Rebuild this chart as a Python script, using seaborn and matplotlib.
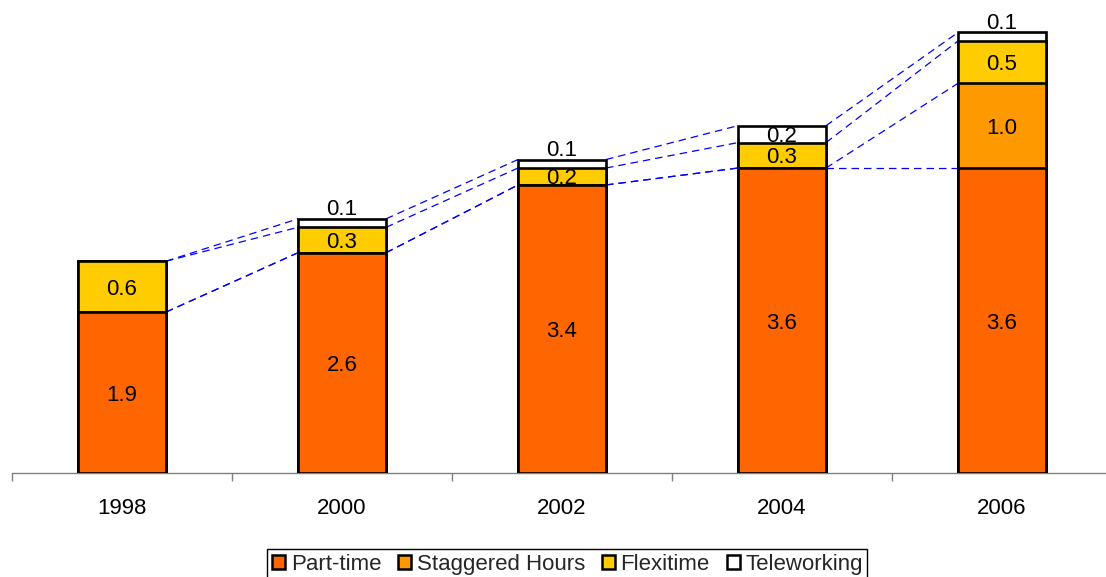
import matplotlib
matplotlib.use("Agg")
import matplotlib.pyplot as plt
from matplotlib.patches import Patch
import numpy as np
import pandas as pd
import seaborn as sns

# Flexible working arrangements by year (stacked components)
years = ["1998", "2000", "2002", "2004", "2006"]
part_time = [1.9, 2.6, 3.4, 3.6, 3.6]
staggered = [0.0, 0.0, 0.0, 0.0, 1.0]
flexitime = [0.6, 0.3, 0.2, 0.3, 0.5]
teleworking = [0.0, 0.1, 0.1, 0.2, 0.1]

series_names = ["Part-time", "Staggered Hours", "Flexitime", "Teleworking"]
series_colors = ["#FF6600", "#FF9900", "#FFCC00", "#FFFFFF"]

sns.set_theme(style="white")
plt.rcParams["font.family"] = ["Liberation Sans", "DejaVu Sans"]

FS = 16

layers = [part_time, staggered, flexitime, teleworking]
cum = np.cumsum(np.array(layers, dtype=float), axis=0)  # cumulative tops per layer
bottoms = np.vstack([np.zeros(len(years)), cum[:-1]])

fig = plt.figure(figsize=(11.06, 5.77), dpi=100)
ax = fig.add_axes([12 / 1106, 104 / 577, 1100 / 1106, 449 / 577])

bar_w = 0.4
# Draw tallest cumulative layer first so each lower layer's outline sits on top
for i in range(len(layers) - 1, -1, -1):
    df = pd.DataFrame({"year": years, "top": cum[i]})
    sns.barplot(data=df, x="year", y="top", order=years, color=series_colors[i],
                saturation=1, width=bar_w, edgecolor="black", linewidth=1.9,
                errorbar=None, ax=ax, zorder=3)

# Series connector lines between adjacent bars
xs = np.arange(len(years))
for i in range(len(layers)):
    for j in range(len(years) - 1):
        ax.plot([xs[j] + bar_w / 2, xs[j + 1] - bar_w / 2], [cum[i][j], cum[i][j + 1]],
                color="#0000FF", lw=0.9, ls=(0, (6, 4)), zorder=2)

# Value labels: thin segments get their label just above the bar
for i, vals in enumerate(layers):
    for j, v in enumerate(vals):
        if v <= 0:
            continue
        if v < 0.15:
            ax.annotate(f"{v:.1f}", (xs[j], cum[i][j]), xytext=(0, -1),
                        textcoords="offset points", ha="center", va="bottom",
                        fontsize=FS, color="black", zorder=5)
        else:
            ax.text(xs[j], bottoms[i][j] + v / 2, f"{v:.1f}", ha="center",
                    va="center_baseline", fontsize=FS, color="black", zorder=5)

ax.set_xlim(-0.5, len(years) - 0.5)
ax.set_ylim(0, 5.3)
ax.set_xlabel("")
ax.set_ylabel("")
ax.set_yticks([])
for s in ["top", "right", "left"]:
    ax.spines[s].set_visible(False)
ax.spines["bottom"].set_color("#808080")
ax.spines["bottom"].set_linewidth(1.0)

ax.set_xticks(xs)
ax.set_xticklabels(years)
ax.set_xticks(np.arange(-0.5, len(years)), minor=True)
ax.tick_params(axis="x", which="major", length=0, pad=18, labelsize=FS, labelcolor="black")
ax.tick_params(axis="x", which="minor", length=6, width=1, color="#808080", direction="out")
ax.tick_params(axis="x", which="both", bottom=True)

handles = [Patch(facecolor=c, edgecolor="black", linewidth=1.8) for c in series_colors]
leg = fig.legend(handles, series_names, loc="center", bbox_to_anchor=(0.513, 0.022),
                 ncol=4, fontsize=FS, frameon=True, fancybox=False, framealpha=1,
                 edgecolor="black", handlelength=0.6, handleheight=0.6,
                 handletextpad=0.25, columnspacing=0.75, borderpad=0.2,
                 borderaxespad=0)
leg.get_frame().set_linewidth(1.0)

fig.savefig("out.png", dpi=100, facecolor="white")
